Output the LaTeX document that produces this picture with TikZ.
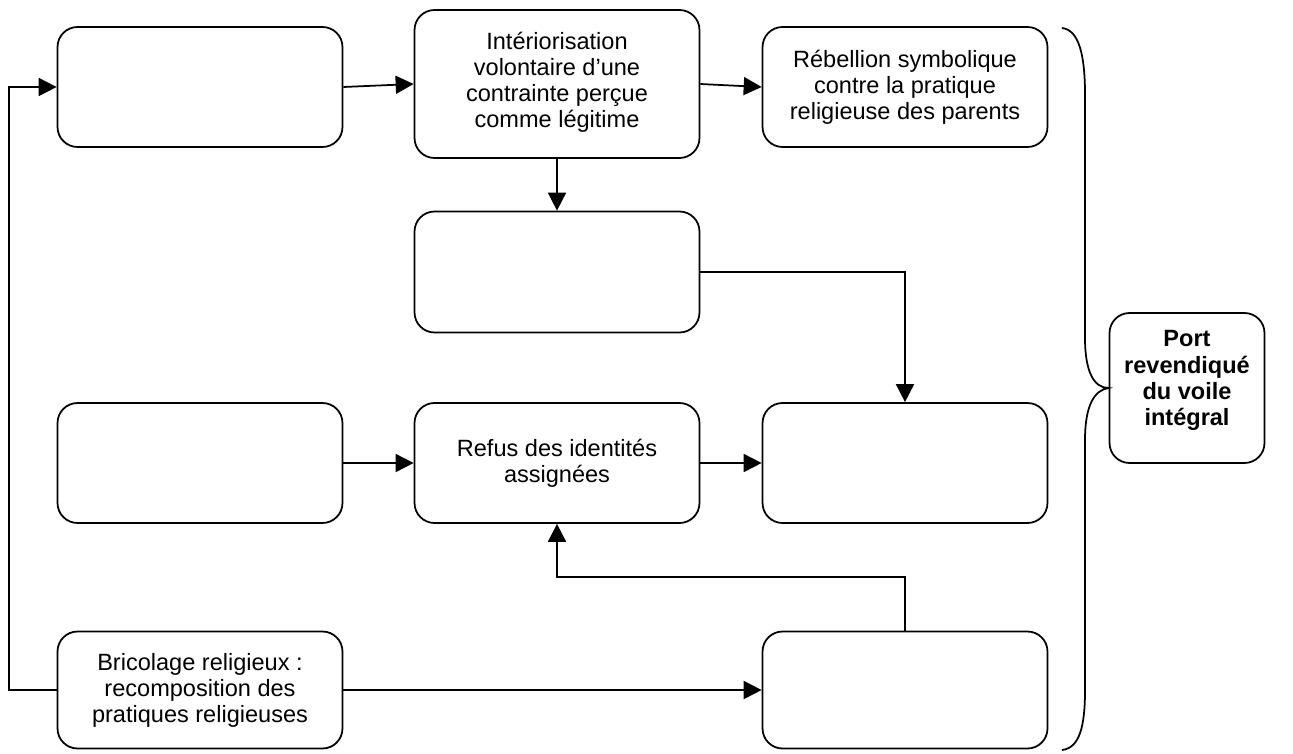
\documentclass[tikz,border=0pt]{standalone}
\usepackage{fontspec}
\setmainfont{Liberation Sans}
\usetikzlibrary{arrows.meta,positioning,decorations.pathreplacing,calc}

\tikzset{
    etape/.style={draw, line width=1pt, rounded corners=0.4cm, align=center,
        minimum width=5.7cm, minimum height=2.4cm, inner sep=2pt,
        font=\fontsize{13.4}{14.8}\selectfont},
    fleche/.style={line width=1pt, -{Triangle[length=0.36cm,width=0.36cm]}},
    lien/.style={line width=1pt}
}

\begin{document}
\begin{tikzpicture}[x=0.02cm, y=-0.02cm]
    \useasboundingbox (0,0) rectangle (1293,753);

    % Ligne du haut
    \node[etape] (vide1) at (200,87) {};
    \node[etape, minimum height=2.96cm] (interio) at (557,84)
        {Intériorisation\\volontaire d’une\\contrainte perçue\\comme légitime\\[-10pt]\mbox{}};
    \node[etape] (rebel) at (905,87)
        {Rébellion symbolique\\contre la pratique\\religieuse des parents};

    % Milieu
    \node[etape, minimum height=2.42cm] (vide2) at (557,272) {};
    \node[etape] (vide3) at (200,463) {};
    \node[etape] (refus) at (557,463) {Refus des identités\\assignées};
    \node[etape] (vide4) at (905,463) {};

    % Ligne du bas
    \node[etape, minimum height=2.34cm] (brico) at (200,690)
        {Bricolage religieux :\\recomposition des\\pratiques religieuses};
    \node[etape, minimum height=2.34cm] (vide5) at (905,690) {};

    % Resultat
    \node[etape, minimum width=3.1cm, minimum height=3cm,
        font=\fontsize{13.4}{15}\selectfont\bfseries] (port) at (1187,388)
        {Port\\revendiqué\\du voile\\intégral\\[-4pt]\mbox{}};

    % Accolade
    \draw[lien] (1062,28) .. controls (1079,30) and (1085,55) .. (1085,95)
        -- (1085,338) .. controls (1085,372) and (1094,388) .. (port.west)
        .. controls (1094,390) and (1085,406) .. (1085,440)
        -- (1085,690) .. controls (1085,728) and (1079,748) .. (1062,750);

    % Fleches
    \draw[fleche] (vide1.east) -- (interio.west);
    \draw[fleche] (interio.east) -- (rebel.west);
    \draw[fleche] (interio.south) -- (vide2.north);
    \draw[fleche] (vide2.east) -| (vide4.north);
    \draw[fleche] (vide3.east) -- (refus.west);
    \draw[fleche] (refus.east) -- (vide4.west);
    \draw[fleche] (vide5.north) -- ++(0,-54) -| (refus.south);
    \draw[fleche] (brico.west) -- ++(-48,0) |- (vide1.west);
    \draw[fleche] (brico.east) -- (vide5.west);
\end{tikzpicture}
\end{document}
